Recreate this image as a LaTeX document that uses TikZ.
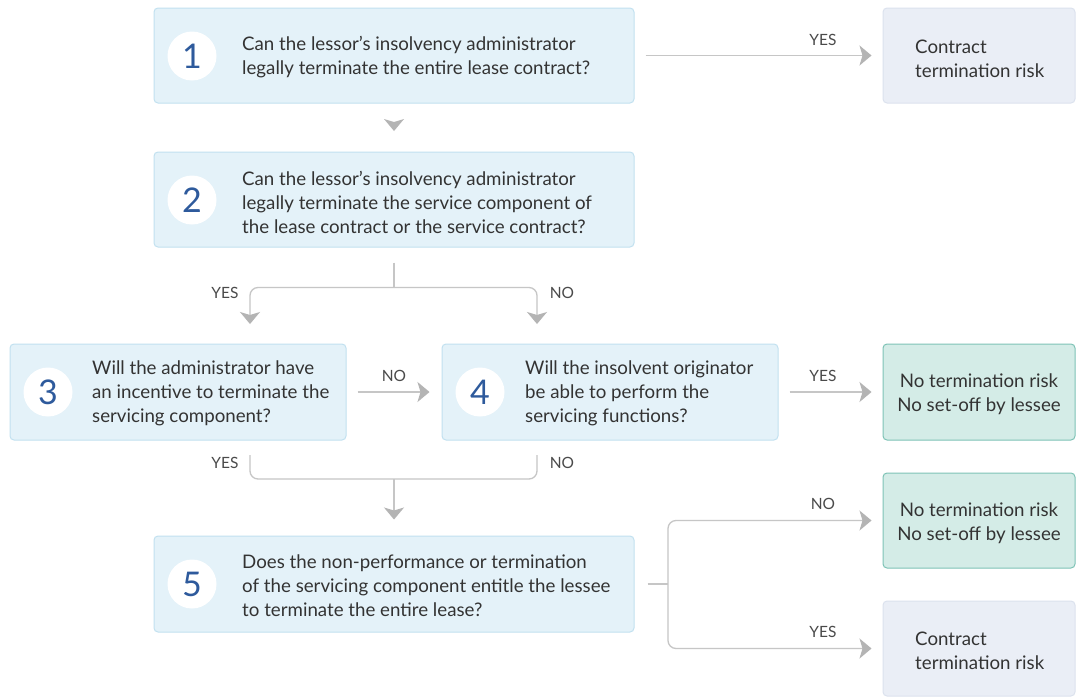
\documentclass[tikz,border=0pt]{standalone}
\usepackage{fontspec}
\setmainfont{Lato}
\usetikzlibrary{arrows.meta,calc}
\definecolor{qfill}{HTML}{E4F2F9}
\definecolor{qborder}{HTML}{C2E1F0}
\definecolor{cfill}{HTML}{EAEEF6}
\definecolor{cborder}{HTML}{DCE2EE}
\definecolor{gfill}{HTML}{D4ECE7}
\definecolor{gborder}{HTML}{7EC3B6}
\definecolor{numblue}{HTML}{2E5A9C}
\definecolor{linegray}{HTML}{C6C6C6}
\definecolor{tipgray}{HTML}{B4B4B4}
\definecolor{txt}{HTML}{333333}
\definecolor{labgray}{HTML}{4A4A4A}
\begin{document}
\begin{tikzpicture}[x=1pt,y=-1pt,
  qbox/.style={draw=qborder, fill=qfill, rounded corners=4pt, line width=1pt, minimum width=480, minimum height=95},
  qboxs/.style={qbox, minimum width=336, minimum height=96},
  cbox/.style={draw=cborder, fill=cfill, rounded corners=4pt, line width=1pt, minimum width=192, minimum height=95},
  gbox/.style={draw=gborder, fill=gfill, rounded corners=4pt, line width=1pt, minimum width=192, minimum height=95},
  numc/.style={circle, fill=white, minimum size=49, inner sep=0pt, text=numblue, font=\fontsize{34}{34}\selectfont},
  qtext/.style={anchor=west, inner sep=0pt, align=left, text=txt, font=\fontsize{18.7}{24}\selectfont},
  otext/.style={inner sep=0pt, align=center, text=txt, font=\fontsize{18.7}{24}\selectfont},
  lbl/.style={inner sep=0pt, text=labgray, font=\fontsize{15.5}{16}\selectfont},
  conn/.style={draw=linegray, line width=1.3pt},
  arr/.style={conn, -{Stealth[length=12pt,width=20pt,inset=3pt,color=tipgray,fill=tipgray]}}
]
\useasboundingbox (0,0) rectangle (1081,696);
\fill[white] (0,0) rectangle (1081,696);

% question boxes
\node[qbox] (q1) at (394,55.5) {};
\node[numc] (n1) at (192,56) {1};
\node[qtext] (t1) at (242,57) {Can the lessor’s insolvency administrator\\legally terminate the entire lease contract?};

\node[qbox] (q2) at (394,199.5) {};
\node[numc] (n2) at (192,200) {2};
\node[qtext] (t2) at (242,202) {Can the lessor’s insolvency administrator\\legally terminate the service component of\\the lease contract or the service contract?};

\node[qboxs] (q3) at (178,392) {};
\node[numc] (n3) at (48,392) {3};
\node[qtext] (t3) at (92,393) {Will the administrator have\\an incentive to terminate the\\servicing component?};

\node[qboxs] (q4) at (610,392) {};
\node[numc] (n4) at (480,392) {4};
\node[qtext] (t4) at (525,393) {Will the insolvent originator\\be able to perform the\\servicing functions?};

\node[qbox, minimum height=96] (q5) at (394,584) {};
\node[numc] (n5) at (192,584) {5};
\node[qtext] (t5) at (242,586) {Does the non-performance or termination\\of the servicing component entitle the lessee\\to terminate the entire lease?};

% outcome boxes
\node[cbox] (c1) at (979,55.5) {};
\node[qtext] (ct1) at (915,59) {Contract\\termination risk};
\node[gbox, minimum height=96] (g1) at (979,392) {};
\node[otext] (gt1) at (979,394) {No termination risk\\No set-off by lessee};
\node[gbox] (g2) at (979,520.5) {};
\node[otext] (gt2) at (979,523) {No termination risk\\No set-off by lessee};
\node[cbox] (c2) at (979,648.5) {};
\node[qtext] (ct2) at (915,651) {Contract\\termination risk};

% connectors
\draw[arr] ([xshift=11pt]q1.east) -- ([xshift=-11pt]c1.west);
\node[lbl] (l1) at (823,40) {YES};

\coordinate (d12) at (394,125);
\fill[tipgray] (d12) ++(-10,-6) -- ++(10,12) -- ++(10,-12) -- ++(-10,3) -- cycle;

\draw[conn] ([yshift=-15pt]q2.south) -- ++(0,25) coordinate (s2);
\coordinate (a3) at (250,324);
\coordinate (a4) at (537,324);
\draw[arr, rounded corners=8pt] (s2) -| (a3);
\draw[arr, rounded corners=8pt] (s2) -| (a4);
\node[lbl] (l2y) at (225,293) {YES};
\node[lbl] (l2n) at (562,293) {NO};

\draw[arr] ([xshift=11pt]q3.east) -- ([xshift=-12pt]q4.west);
\node[lbl] (l3) at (394,376) {NO};
\draw[arr] ([xshift=11pt]q4.east) -- ([xshift=-11pt]g1.west);
\node[lbl] (l4) at (823,376) {YES};

\coordinate (m3) at (250,455);
\coordinate (m4) at (537,455);
\coordinate (jm) at (394,479);
\draw[conn, rounded corners=8pt] (m3) |- (jm) -| (m4);
\draw[arr] (jm) -- ([yshift=16pt]q5.north);
\node[lbl] (l3y) at (225,463) {YES};
\node[lbl] (l4n) at (562,463) {NO};

\coordinate (s5) at (668,584);
\draw[conn] ([xshift=13pt]q5.east) -- (s5);
\draw[arr, rounded corners=8pt] (s5) |- ([xshift=-11pt]g2.west);
\draw[arr, rounded corners=8pt] (s5) |- ([xshift=-11pt]c2.west);
\node[lbl] (l5n) at (823,504) {NO};
\node[lbl] (l5y) at (823,632) {YES};
\end{tikzpicture}
\end{document}
